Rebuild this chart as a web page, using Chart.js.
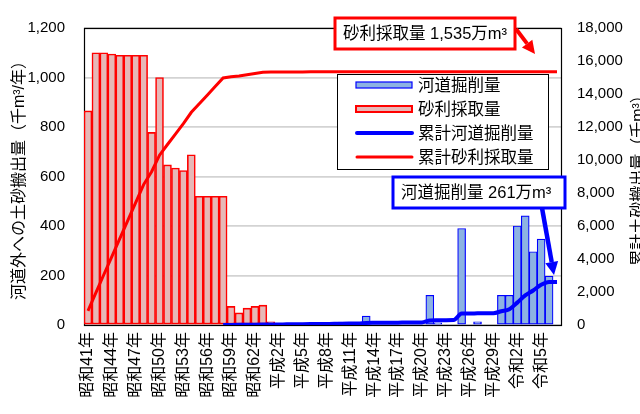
<!DOCTYPE html>
<html>
<head>
<meta charset="utf-8">
<script src="https://cdn.jsdelivr.net/npm/chart.js@4/dist/chart.umd.min.js"></script>
<style>
  html, body { margin: 0; padding: 0; background: #fff; overflow: hidden; }
  #wrap { width: 640px; height: 414px; }
</style>
</head>
<body>
<div id="wrap"><canvas id="chart" width="640" height="414"></canvas></div>
<script>
/* categories: one per year, 昭和41年 .. 令和7年 */
const years = [
  '昭和41年','昭和42年','昭和43年','昭和44年','昭和45年','昭和46年','昭和47年','昭和48年',
  '昭和49年','昭和50年','昭和51年','昭和52年','昭和53年','昭和54年','昭和55年','昭和56年',
  '昭和57年','昭和58年','昭和59年','昭和60年','昭和61年','昭和62年','昭和63年',
  '平成元年','平成2年','平成3年','平成4年','平成5年','平成6年','平成7年','平成8年',
  '平成9年','平成10年','平成11年','平成12年','平成13年','平成14年','平成15年','平成16年',
  '平成17年','平成18年','平成19年','平成20年','平成21年','平成22年','平成23年','平成24年',
  '平成25年','平成26年','平成27年','平成28年','平成29年','平成30年',
  '令和元年','令和2年','令和3年','令和4年','令和5年','令和6年','令和7年'
];

/* 砂利採取量 (千m3/年) */
const gravel = [
  865, 1100, 1100, 1095, 1090, 1090, 1090, 1090, 778, 1000,
  647, 634, 624, 688, 520, 520, 520, 520, 75, 49,
  68, 75, 80, 13, 3, null, null, null, 3, null,
  null, null, null, null, null, null, null, null, null, null,
  null, null, null, null, null, null, null, null, null, null,
  null, null, null, null, null, null, null, null, null, null
];

/* 河道掘削量 (千m3/年) */
const dredging = [
  null, null, null, null, null, null, null, null, null, null,
  null, null, null, null, null, null, null, null, null, null,
  null, null, null, null, null, null, null, null, null, null,
  null, null, 12, null, null, 36, null, null, null, null,
  null, null, null, 120, 9, null, null, 390, null, 13,
  null, null, 120, 120, 400, 441, 296, 347, 197, null
];

/* 累計砂利採取量 (千m3) */
const gravelTotal = [
  860, 1960, 3060, 4150, 5240, 6330, 7420, 8510, 9290, 10290,
  10940, 11570, 12200, 12890, 13410, 13930, 14450, 14970, 15045, 15095,
  15165, 15240, 15320, 15335, 15340, 15340, 15340, 15340, 15345, 15350,
  15350, 15350, 15350, 15350, 15350, 15350, 15350, 15350, 15350, 15350,
  15350, 15350, 15350, 15350, 15350, 15350, 15350, 15350, 15350, 15350,
  15350, 15350, 15350, 15350, 15350, 15350, 15350, 15350, 15350, 15350
];

/* 累計河道掘削量 (千m3) */
const dredgingTotal = [
  null, null, null, null, null, null, null, null, null, null,
  null, null, null, null, null, null, null, 0, 5, 10,
  15, 20, 25, 30, 35, 40, 45, 50, 55, 60,
  65, 70, 82, 86, 90, 126, 130, 134, 138, 142,
  146, 150, 155, 275, 290, 295, 300, 690, 695, 708,
  712, 716, 836, 956, 1356, 1797, 2093, 2440, 2610, 2610
];

/* axis ticks */
const leftTicks = [0, 200, 400, 600, 800, 1000, 1200];
const rightTicks = [0, 2000, 4000, 6000, 8000, 10000, 12000, 14000, 16000, 18000];

const FONT = "'Liberation Sans', 'Noto Sans CJK JP', sans-serif";
const RED = '#ff0000';
const BLUE = '#0000ff';
const PINK = '#e6b8b7';
const SKY = '#8db3e2';

Chart.defaults.font.family = FONT;
Chart.defaults.color = '#000';

/* helpers */
function fmt(v) { return Number(v).toLocaleString('en-US'); }

function arrow(ctx, x0, y0, x1, y1, color, w, head) {
  const a = Math.atan2(y1 - y0, x1 - x0);
  const bx = x1 - Math.cos(a) * head, by = y1 - Math.sin(a) * head;
  ctx.save();
  ctx.strokeStyle = color; ctx.fillStyle = color; ctx.lineWidth = w;
  ctx.beginPath(); ctx.moveTo(x0, y0); ctx.lineTo(bx, by); ctx.stroke();
  ctx.beginPath();
  ctx.moveTo(x1, y1);
  ctx.lineTo(bx + Math.sin(a) * head * 0.5, by - Math.cos(a) * head * 0.5);
  ctx.lineTo(bx - Math.sin(a) * head * 0.5, by + Math.cos(a) * head * 0.5);
  ctx.closePath(); ctx.fill();
  ctx.restore();
}

function labelBox(ctx, x, y, w, h, color, text) {
  ctx.save();
  ctx.fillStyle = '#fff';
  ctx.fillRect(x, y, w, h);
  ctx.strokeStyle = color; ctx.lineWidth = 3;
  ctx.strokeRect(x, y, w, h);
  ctx.fillStyle = '#000';
  ctx.font = '16.5px ' + FONT;
  ctx.textBaseline = 'middle';
  ctx.fillText(text, x + 8, y + h / 2 + 1);
  ctx.restore();
}

/* plot frame, legend, callouts and right axis title */
const overlay = {
  id: 'overlay',
  beforeDatasetsDraw(chart) {
    const { ctx, chartArea: a } = chart;
    ctx.save();
    ctx.strokeStyle = '#000'; ctx.lineWidth = 1.2;
    ctx.strokeRect(a.left + 0.5, a.top + 0.5, a.right - a.left, a.bottom - a.top);
    ctx.restore();
  },
  afterDraw(chart) {
    const { ctx, chartArea: a } = chart;

    // legend
    ctx.save();
    ctx.fillStyle = '#fff';
    ctx.fillRect(337, 74, 211, 95);
    ctx.strokeStyle = '#000'; ctx.lineWidth = 1;
    ctx.strokeRect(337.5, 74.5, 211, 95);
    ctx.font = '16.5px ' + FONT;
    ctx.textBaseline = 'middle';
    ctx.fillStyle = SKY; ctx.fillRect(356, 82, 56, 6);
    ctx.strokeStyle = BLUE; ctx.lineWidth = 1.2; ctx.strokeRect(356, 82, 56, 6);
    ctx.fillStyle = PINK; ctx.fillRect(356, 106, 56, 6);
    ctx.strokeStyle = RED; ctx.lineWidth = 2; ctx.strokeRect(356, 106, 56, 6);
    ctx.lineCap = 'round';
    ctx.strokeStyle = BLUE; ctx.lineWidth = 4;
    ctx.beginPath(); ctx.moveTo(357, 133); ctx.lineTo(412, 133); ctx.stroke();
    ctx.strokeStyle = RED; ctx.lineWidth = 3;
    ctx.beginPath(); ctx.moveTo(357, 157); ctx.lineTo(412, 157); ctx.stroke();
    ctx.fillStyle = '#000';
    ctx.fillText('河道掘削量', 418, 86);
    ctx.fillText('砂利採取量', 418, 110);
    ctx.fillText('累計河道掘削量', 418, 134);
    ctx.fillText('累計砂利採取量', 418, 158);
    ctx.restore();

    // callouts
    labelBox(ctx, 335, 18, 180, 31, RED, '砂利採取量 1,535万m³');
    arrow(ctx, 516, 29, 535, 54, RED, 4, 13);
    labelBox(ctx, 393, 177, 172, 31, BLUE, '河道掘削量 261万m³');
    arrow(ctx, 542, 208, 554, 275, BLUE, 4.5, 13);

    // right axis title, reads bottom to top, clipped by the canvas edge
    ctx.save();
    ctx.translate(639, (a.top + a.bottom) / 2);
    ctx.rotate(-Math.PI / 2);
    ctx.font = '16px ' + FONT;
    ctx.fillStyle = '#000';
    ctx.textAlign = 'center'; ctx.textBaseline = 'middle';
    ctx.fillText('累計土砂搬出量（千m³）', 0, 0);
    ctx.restore();
  }
};

new Chart(document.getElementById('chart'), {
  data: {
    labels: years,
    datasets: [
      { type: 'line', label: '累計河道掘削量', data: dredgingTotal, yAxisID: 'y1',
        borderColor: BLUE, borderWidth: 4, pointRadius: 0, cubicInterpolationMode: 'monotone', order: 0 },
      { type: 'line', label: '累計砂利採取量', data: gravelTotal, yAxisID: 'y1',
        borderColor: RED, borderWidth: 3, pointRadius: 0, tension: 0, order: 1 },
      { type: 'bar', label: '河道掘削量', data: dredging, yAxisID: 'y',
        backgroundColor: SKY, borderColor: BLUE, borderWidth: 1.2, borderSkipped: false,
        grouped: false, barPercentage: 1, categoryPercentage: 1, order: 2 },
      { type: 'bar', label: '砂利採取量', data: gravel, yAxisID: 'y',
        backgroundColor: PINK, borderColor: RED, borderWidth: 1.6, borderSkipped: false,
        grouped: false, barPercentage: 1, categoryPercentage: 1, order: 3 }
    ]
  },
  options: {
    responsive: false,
    animation: false,
    devicePixelRatio: 1,
    layout: { padding: { top: 13, left: 0, right: 0, bottom: 0 } },
    plugins: { legend: { display: false }, tooltip: { enabled: false } },
    scales: {
      x: {
        grid: { display: false, drawTicks: false },
        border: { display: false },
        ticks: {
          autoSkip: false, minRotation: 90, maxRotation: 90, padding: 7,
          font: { size: 16 },
          callback: (v, i) => (i % 3 === 0 ? years[i] : '')
        },
        afterFit: s => { s.height = 89; }
      },
      y: {
        position: 'left', min: leftTicks[0], max: leftTicks[leftTicks.length - 1],
        afterBuildTicks: s => { s.ticks = leftTicks.map(v => ({ value: v })); },
        grid: { color: '#d3d3d3', lineWidth: 1.8, drawTicks: false },
        border: { display: false },
        ticks: { padding: 19, font: { size: 15 }, callback: v => fmt(v) },
        title: {
          display: true, text: '河道外への土砂搬出量（千m³/年）',
          font: { size: 16 }, padding: { top: 10, bottom: 0 }
        },
        afterFit: s => { s.width = 84; }
      },
      y1: {
        position: 'right', min: rightTicks[0], max: rightTicks[rightTicks.length - 1],
        afterBuildTicks: s => { s.ticks = rightTicks.map(v => ({ value: v })); },
        grid: { display: false, drawTicks: false },
        border: { display: false },
        ticks: { padding: 16, font: { size: 15 }, callback: v => fmt(v) },
        afterFit: s => { s.width = 79; }
      }
    }
  },
  plugins: [overlay]
});
</script>
</body>
</html>
